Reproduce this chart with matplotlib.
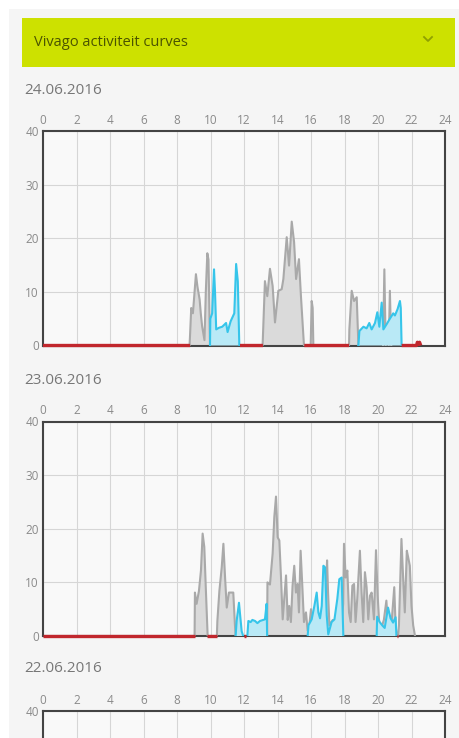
import numpy as np
import matplotlib.pyplot as plt
from matplotlib.patches import Rectangle
from matplotlib.lines import Line2D

nan = np.nan

dates = ["24.06.2016", "23.06.2016", "22.06.2016"]
x_ticks = list(range(0, 25, 2))
y_ticks = [0, 10, 20, 30, 40]

# 24.06.2016
gray1_t = [8.75, 8.78, 8.85, 8.95, 9.13, 9.22, 9.35, 9.42, 9.5, 9.64, 9.72, 9.81, 9.88, 9.97, nan,
           13.11, 13.25, 13.39, 13.55, 13.71, 13.85, 14.05, 14.25, 14.35, 14.55, 14.69, 14.85,
           14.99, 15.11, 15.28, 15.4, 15.58, nan,
           15.98, 16.04, 16.1, 16.14, nan,
           18.27, 18.29, 18.43, 18.57, 18.73, 18.83, nan,
           20.3, 20.38, 20.46, nan, 20.64, 20.71, 20.79]
gray1_v = [0, 2, 7, 6, 13.3, 11, 8.6, 6, 3.6, 1, 10, 17.2, 16, 0, nan,
           0, 12, 9.2, 14.3, 11.1, 4.3, 10.2, 10.5, 12.4, 20.2, 14.9, 23.1,
           19.3, 12.4, 16.1, 9.2, 0, nan,
           0, 8.3, 7, 0, nan,
           0, 3, 10.2, 8.3, 9, 0, nan,
           0, 14.2, 0, nan, 0, 10.2, 0]
cyan1_t = [9.97, 9.99, 10.1, 10.21, 10.27, 10.34, 10.5, 10.7, 10.93, 11.02, 11.2, 11.42, 11.53,
           11.63, 11.72, nan,
           18.83, 18.89, 19.13, 19.32, 19.48, 19.62, 19.82, 19.96, 20.08, 20.22, 20.32, 20.52,
           20.71, 20.91, 21.01, 21.17, 21.31, 21.36, 21.41]
cyan1_v = [0, 5, 6, 14.2, 10, 3, 3.3, 3.5, 4.2, 2.5, 4.5, 6, 15.2,
           12, 0, nan,
           0, 2.7, 3.5, 3.2, 4.2, 3, 4.2, 6.2, 3.5, 8, 3, 4,
           5, 6, 5.6, 6.8, 8.3, 7, 0]
red1_t = [0, 8.78, nan, 11.76, 13.13, nan, 15.6, 18.27, nan,
          21.41, 22.3, 22.35, 22.42, 22.48, 22.55]
red1_v = [0, 0, nan, 0, 0, nan, 0, 0, nan,
          0, 0, 0.6, 0.2, 0.6, 0]

# 23.06.2016
gray2_t = [9.05, 9.07, 9.17, 9.31, 9.43, 9.53, 9.63, 9.73, 9.83, nan,
           10.38, 10.41, 10.53, 10.67, 10.77, 10.87, 10.97, 11.1, 11.36, 11.46, 11.5, nan,
           13.38, 13.4, 13.55, 13.71, 13.81, 13.91, 14.01, 14.11, 14.21, 14.31, 14.41, 14.51,
           14.61, 14.7, 14.8, 14.9, 15.0, 15.1, 15.2, 15.28, 15.38, 15.48, 15.58, 15.7, 15.8,
           15.9, 16.0, 16.1, 16.3, 16.5, 16.6, 16.8, 16.9, 16.96, 17.02, 17.1, 17.3, 17.5,
           17.7, 17.85, 17.92, 17.97, 18.07, 18.17, 18.27, 18.37, 18.47, 18.57, 18.66, 18.76,
           18.92, 19.02, 19.12, 19.22, 19.32, 19.42, 19.52, 19.62, 19.76, 19.88, 19.98, 20.08,
           20.2, 20.35, 20.5, 20.6, 20.8, 20.97, 21.05, 21.12, nan,
           21.2, 21.25, 21.4, 21.5, 21.6, 21.72, 21.8, 21.9, 22.0, 22.1, 22.21]
gray2_v = [0, 8.1, 6, 8.4, 12.2, 19.1, 16.6, 8.1, 0, nan,
           0, 2.8, 8.4, 12.8, 17.2, 10.9, 5.3, 8.1, 8.1, 2, 0, nan,
           0, 10, 9.6, 15.4, 22.2, 26, 18.4, 17.8, 10.9, 3.1, 7.2, 11.3,
           3, 5.6, 2.6, 9.4, 13.1, 8.1, 9.7, 4.4, 15.9, 9.4, 2.6, 4.4, 1,
           2, 5, 2, 3, 4, 2, 3, 9, 14.1, 8, 2, 3, 2,
           4, 3, 6, 17.2, 10.9, 12.2, 4.4, 2.6, 9.4, 9.7, 2.6, 6.9,
           15.9, 8.1, 2.6, 11.9, 9.1, 3.1, 7.5, 8.1, 3.1, 16, 7.5, 2,
           1.5, 3, 6.6, 2, 2, 9.1, 2, 0, nan,
           0, 2, 18.1, 10.9, 4.4, 15.9, 14.7, 13.1, 5.6, 2, 0]
cyan2_t = [11.5, 11.56, 11.7, 11.86, 11.95, nan,
           12.2, 12.26, 12.4, 12.5, 12.66, 12.8, 12.95, 13.25, 13.35, 13.38, nan,
           15.8, 15.85, 16.04, 16.2, 16.34, 16.44, 16.54, 16.64, 16.74, 16.84, 16.94, 17.03,
           17.23, 17.4, 17.57, 17.69, 17.83, 17.93, nan,
           19.92, 19.95, 20.1, 20.25, 20.4, 20.6, 20.75, 20.9, 21.05, 21.1]
cyan2_v = [0, 2.8, 6.2, 0.9, 0, nan,
           0, 2.8, 2.6, 3, 2.8, 2.4, 2.8, 3.1, 6, 0, nan,
           0, 2, 3.1, 5.6, 8.1, 4.4, 3.3, 5.6, 13.1, 12.8, 3.8, 0.3,
           2.6, 3.1, 6.9, 10.6, 10.9, 0, nan,
           0, 3.6, 2.6, 2, 1.5, 5.3, 3.3, 2.5, 3.5, 0]
red2_t = [0, 9.05, nan, 9.8, 10.38, nan, 12.0, 12.12, nan, 21.12, 21.22]
red2_v = [0, 0, nan, 0, 0, nan, 0, 0, nan, 0, 0]

days = [
    (gray1_t, gray1_v, cyan1_t, cyan1_v, red1_t, red1_v),
    (gray2_t, gray2_v, cyan2_t, cyan2_v, red2_t, red2_v),
    None,
]

W, H = 459, 738
fig = plt.figure(figsize=(W / 100, H / 100), dpi=100, facecolor="#f5f5f5")
plt.rcParams["font.family"] = ["Open Sans", "DejaVu Sans"]

# page edges and header bar
fig.patches.append(Rectangle((0, 1 - 9 / H), 1, 9 / H, transform=fig.transFigure,
                             facecolor="white", edgecolor="none"))
fig.patches.append(Rectangle((0, 0), 9 / W, 1, transform=fig.transFigure,
                             facecolor="white", edgecolor="none"))
fig.patches.append(Rectangle((22 / W, 1 - 67 / H), 433 / W, 49 / H, transform=fig.transFigure,
                             facecolor="#cde100", edgecolor="none"))
fig.text(34 / W, 1 - 43 / H, "Vivago activiteit curves", fontsize=10.5, color="#4b5400",
         va="center", ha="left")
fig.lines.append(Line2D([424 / W, 428 / W, 432 / W], [1 - 37 / H, 1 - 41 / H, 1 - 37 / H],
                        transform=fig.transFigure, color="#8fa000", lw=1.3))

tops = [131, 421.5, 711]
date_y = [90, 380, 669]
ax_h = 214.5

for i in range(3):
    top = tops[i]
    ax = fig.add_axes([43 / W, 1 - (top + ax_h) / H, 402 / W, ax_h / H])
    ax.set_facecolor("#f9f9f9")
    ax.set_xlim(0, 24)
    ax.set_ylim(0, 40)
    ax.set_xticks(x_ticks)
    ax.set_yticks(y_ticks if days[i] is not None else y_ticks[-1:])
    ax.xaxis.tick_top()
    ax.tick_params(length=0, labelsize=8.5, labelcolor="#8a8a8a")
    ax.tick_params(axis="x", pad=3)
    ax.tick_params(axis="y", pad=3)
    ax.grid(True, color="#d6d6d6", lw=0.8)
    for s in ax.spines.values():
        s.set_color("#444444")
        s.set_linewidth(1.5)
    fig.text(24 / W, 1 - date_y[i] / H, dates[i], fontsize=11, color="#777777",
             va="center", ha="left")

    if days[i] is None:
        continue
    gt, gv, ct, cv, rt, rv = days[i]
    gt, gv = np.array(gt), np.array(gv)
    ct, cv = np.array(ct), np.array(cv)
    ax.fill_between(gt, gv, 0, color="#dadada", lw=0, zorder=2)
    ax.plot(gt, gv, color="#a9a9a9", lw=1.5, zorder=3)
    ax.fill_between(ct, cv, 0, color="#b9e9f6", lw=0, zorder=4)
    ax.plot(ct, cv, color="#36c5ea", lw=1.5, zorder=5)
    ax.plot(rt, rv, color="#c1272d", lw=2.4, zorder=6, clip_on=False,
            solid_capstyle="butt")

fig.savefig("out.png", dpi=100, facecolor=fig.get_facecolor())
